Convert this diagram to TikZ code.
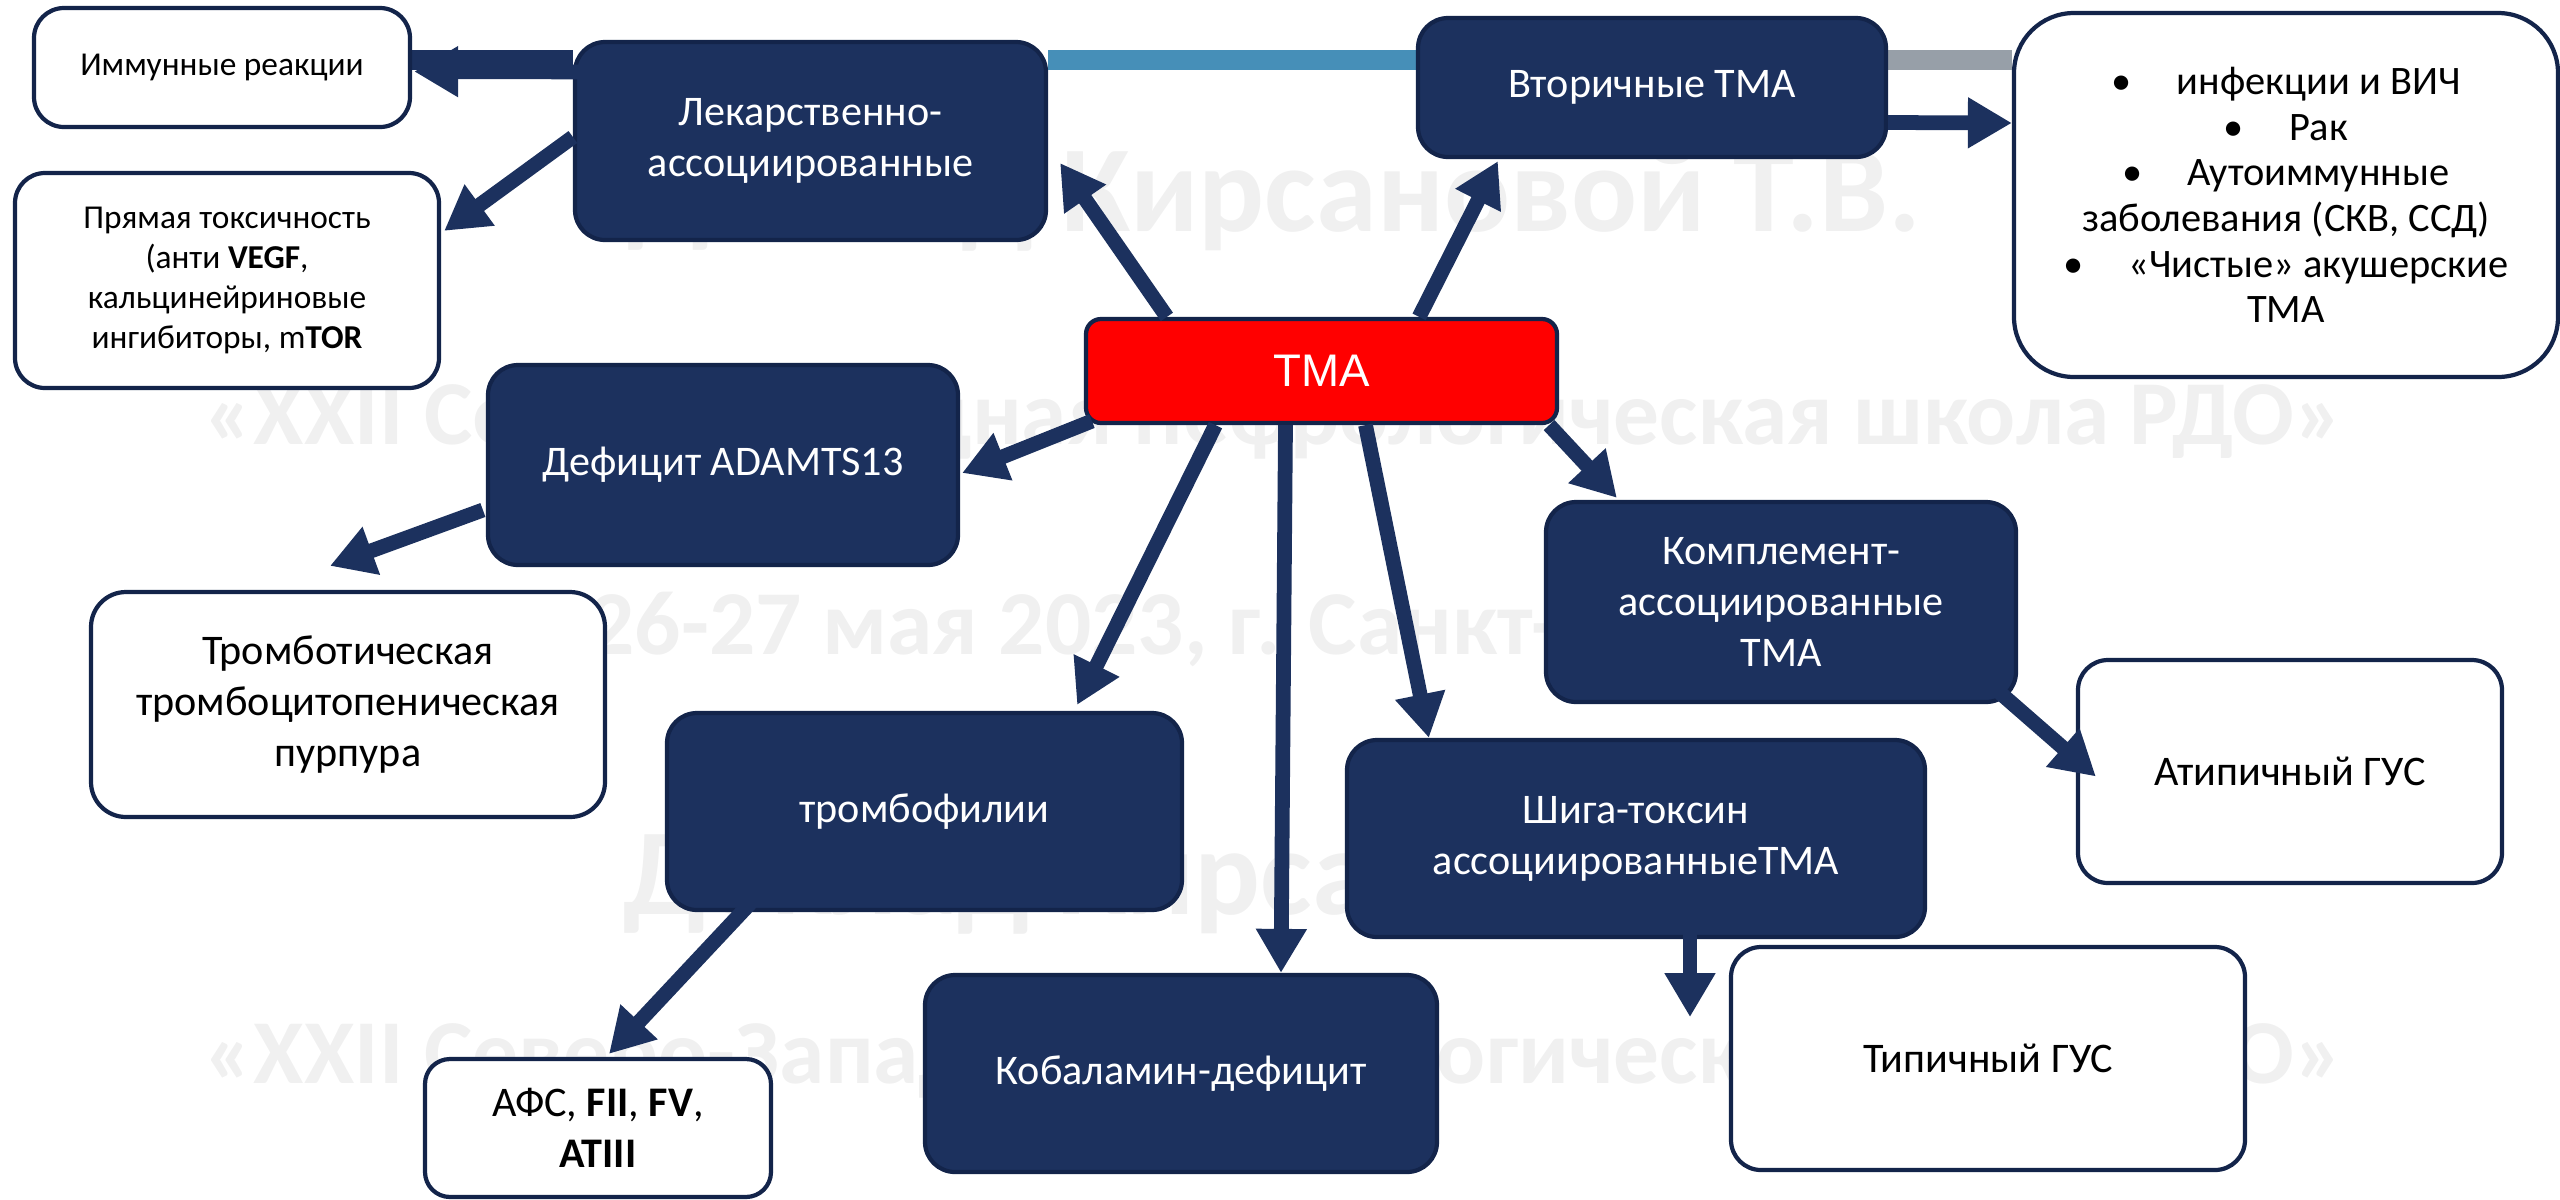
\documentclass[tikz,border=0pt]{standalone}
\usepackage{fontspec}
\setmainfont{Carlito}
\newfontfamily\tmafont{Liberation Sans}
\usetikzlibrary{arrows.meta,calc,positioning}

\definecolor{navy}{HTML}{1C315E}
\definecolor{navyedge}{HTML}{13244A}
\definecolor{steel}{HTML}{468FB8}
\definecolor{ash}{HTML}{979FA8}
\definecolor{wmgray}{HTML}{F0F0F0}

\pgfdeclarelayer{background}
\pgfsetlayers{background,main}

\tikzset{
  darkbox/.style={draw=navyedge, line width=1.2pt, fill=navy, rounded corners=3mm,
    text=white, align=center, inner sep=0pt, font=\fontsize{12}{14.5}\selectfont},
  whitebox/.style={draw=navyedge, line width=1.2pt, fill=white, rounded corners=3mm,
    text=black, align=center, inner sep=0pt, font=\fontsize{12}{14.5}\selectfont},
  smalltext/.style={font=\fontsize{9.5}{11.3}\selectfont},
  arr/.style={draw=navy, line width=4.2pt, -{Triangle[length=4.4mm,width=4.8mm]}},
  bar/.style={line width=2mm},
  wmark/.style={text=wmgray, font=\bfseries\fontsize{26}{30}\selectfont},
}

\newcommand{\bul}{•\hspace{4.5mm}}

\begin{document}
\begin{tikzpicture}[x=0.1mm,y=-0.1mm]
	\useasboundingbox (0,0) rectangle (2560,1199);
	
	%watermark
	\node[wmark, font=\bfseries\fontsize{35}{40}\selectfont] (wm1) at (1274,199) {Доклад Кирсановой Т.В.};
	\node[wmark] (wm2) at (1274,421) {«XXII Северо-Западная нефрологическая школа РДО»};
	\node[wmark] (wm3) at (1277,630) {26-27 мая 2023, г. Санкт-Петербург};
	\node[wmark, font=\bfseries\fontsize{35}{40}\selectfont] (wm4) at (1270,882) {Доклад Кирсановой Т.В.};
	\node[wmark] (wm5) at (1274,1060) {«XXII Северо-Западная нефрологическая школа РДО»};
	
	%boxes
	\node[whitebox, smalltext, minimum width=37.6mm, minimum height=11.9mm] (imm) at (222,67.5) {Иммунные реакции};
	\node[whitebox, smalltext, minimum width=42.4mm, minimum height=21.5mm] (tox) at (227,280.5) {Прямая токсичность\\(анти \textbf{VEGF},\\кальцинейриновые\\ингибиторы, m\textbf{TOR}};
	\node[darkbox, minimum width=47.1mm, minimum height=19.8mm] (lek) at (810.5,141) {Лекарственно-\\ассоциированные};
	\node[darkbox, minimum width=46.8mm, minimum height=13.9mm] (vtor) at (1652,87.5) {Вторичные ТМА};
	\node[whitebox, rounded corners=6mm, minimum width=54.4mm, minimum height=36.4mm,
		font=\fontsize{11.5}{13}\selectfont] (sec) at (2286,195)
		{\bul инфекции и ВИЧ\\\bul Рак\\\bul Аутоиммунные\\заболевания (СКВ, ССД)\\\bul «Чистые» акушерские\\ТМА};
	\node[darkbox, fill=red, rounded corners=1.5mm, minimum width=47.1mm, minimum height=10.4mm,
		font=\tmafont\fontsize{13}{15}\selectfont] (tma) at (1321.5,371) {ТМА};
	\node[darkbox, minimum width=47mm, minimum height=20mm] (adam) at (723,465) {Дефицит ADAMTS13};
	\node[whitebox, rounded corners=3.5mm, minimum width=51.4mm, minimum height=22.5mm] (ttp) at (348,704.5) {Тромботическая\\тромбоцитопеническая\\пурпура};
	\node[darkbox, minimum width=47mm, minimum height=20mm] (komp) at (1781,602) {Комплемент-\\ассоциированные\\ТМА};
	\node[whitebox, minimum width=42.4mm, minimum height=22.3mm] (agus) at (2290,771.5) {Атипичный ГУС};
	\node[darkbox, minimum width=51.5mm, minimum height=19.7mm] (tromb) at (924.5,811.5) {тромбофилии};
	\node[darkbox, minimum width=57.8mm, minimum height=19.7mm] (shiga) at (1636,838.5) {Шига-токсин\\ассоциированныеТМА};
	\node[darkbox, minimum width=51.2mm, minimum height=19.7mm] (kob) at (1181,1073.5) {Кобаламин-дефицит};
	\node[whitebox, minimum width=51.4mm, minimum height=22.3mm] (tgus) at (1988,1058.5) {Типичный ГУС};
	\node[whitebox, rounded corners=2.5mm, minimum width=34.6mm, minimum height=13.8mm] (afs) at (598,1128) {АФС, \textbf{FII}, \textbf{FV},\\\textbf{ATIII}};
	
	%top line
	\path ($(lek.north)+(0,20)$) coordinate (topy);
	\begin{pgfonlayer}{background}
		\draw[bar, navy] (imm.east |- topy) -- (lek.west |- topy);
		\draw[bar, steel] (lek.east |- topy) -- (vtor.west |- topy);
		\draw[bar, ash] (vtor.east |- topy) -- (sec.west |- topy);
	\end{pgfonlayer}
	
	%arrows from TMA
	\draw[arr] ($(tma.north west)+(83,0)$) -- ($(lek.east)+(12,22)$);
	\draw[arr] ($(tma.north east)+(-140,0)$) -- ($(vtor.south west)+(82,2)$);
	\draw[arr] ($(tma.south west)+(8,-4)$) -- ($(adam.east)+(2,8)$);
	\draw[arr] ($(tma.south)+(-106,0)$) -- ($(tromb.north east)+(-107,-6)$);
	\draw[arr] ($(tma.south)+(-36,0)$) -- ($(kob.north)+(100,0)$);
	\draw[arr] ($(tma.south)+(44,0)$) -- ($(shiga.north west)+(84,0)$);
	\draw[arr] ($(tma.south east)+(-10,0)$) -- ($(komp.north west)+(73,-2)$);
	
	%second level
	\draw[arr] ($(vtor.east)+(0,35)$) -- ($(sec.west)+(0,-72)$);
	\draw[arr, line cap=round] ($(lek.west)+(31,-69)$) -- ($(imm.east)+(2,4)$);
	\draw[arr] ($(lek.west)+(0,-4)$) -- ($(tox.north east)+(3,60)$);
	\draw[arr] ($(adam.west)+(-3,45)$) -- ($(ttp.north)+(-18,-24)$);
	\draw[arr, line cap=round] ($(komp.south east)+(-59,-47)$) -- ($(agus.west)+(20,5)$);
	\draw[arr, line cap=round] ($(tromb.south)+(-161,-23)$) -- ($(afs.north)+(11,-3)$);
	\draw[arr, line cap=round] ($(shiga.south)+(54,-7)$) -- ($(shiga.south)+(54,78)$);
\end{tikzpicture}
\end{document}
